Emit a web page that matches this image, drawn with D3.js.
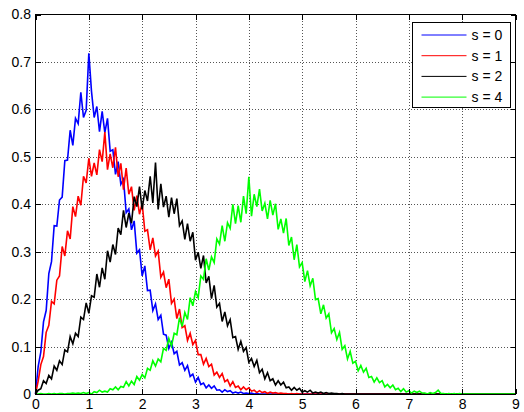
<!DOCTYPE html>
<html>
<head>
<meta charset="utf-8">
<script src="https://cdn.jsdelivr.net/npm/d3@7"></script>
<style>
  html, body { margin: 0; padding: 0; background: #fff; }
  svg { display: block; font-family: "Liberation Sans", Arial, sans-serif; }
  .grid line { stroke: #555; stroke-dasharray: 1,2; shape-rendering: crispEdges; }
  .grid .domain { display: none; }
  .axis .domain { display: none; }
  .axis line { stroke: #000; shape-rendering: crispEdges; }
  .axis text { font-size: 14px; fill: #000; }
</style>
</head>
<body>
<div id="chart"></div>
<script>
// sample spacing of the histograms (x units) and end of the x range
var step = 0.05;
var xMax = 9;

var xTicks = [0, 1, 2, 3, 4, 5, 6, 7, 8, 9];
var yTicks = [0, 0.1, 0.2, 0.3, 0.4, 0.5, 0.6, 0.7, 0.8];

var seriesNames = ["s = 0", "s = 1", "s = 2", "s = 4"];
var seriesColors = ["#0000ff", "#ff0000", "#000000", "#00ff00"];

// values, one every 0.05 starting at x = 0
var s0Vals = [
  0, 0.058, 0.089, 0.152, 0.176, 0.254, 0.279, 0.355, 0.354, 0.409,
  0.415, 0.492, 0.493, 0.556, 0.524, 0.581, 0.570, 0.636, 0.583, 0.598,
  0.718, 0.638, 0.583, 0.606, 0.553, 0.596, 0.551, 0.581, 0.512, 0.515,
  0.463, 0.490, 0.442, 0.453, 0.382, 0.390, 0.346, 0.365, 0.297, 0.304,
  0.249, 0.270, 0.218, 0.219, 0.176, 0.190, 0.157, 0.166, 0.126, 0.124,
  0.096, 0.109, 0.085, 0.090, 0.061, 0.066, 0.050, 0.060, 0.037, 0.042,
  0.025, 0.035, 0.020, 0.023, 0.013, 0.019, 0.012, 0.017, 0.008, 0.009,
  0.004, 0.009, 0.005, 0.007, 0.002, 0.004, 0.002, 0.004, 0.001, 0.002,
  0.001, 0.002, 0, 0.001, 0
];
var s1Vals = [
  0, 0.027, 0.062, 0.079, 0.130, 0.145, 0.195, 0.190, 0.240, 0.249,
  0.311, 0.291, 0.344, 0.327, 0.395, 0.374, 0.417, 0.398, 0.459, 0.445,
  0.497, 0.459, 0.487, 0.462, 0.515, 0.490, 0.552, 0.473, 0.506, 0.477,
  0.520, 0.458, 0.486, 0.431, 0.476, 0.421, 0.437, 0.387, 0.418, 0.379,
  0.402, 0.343, 0.346, 0.304, 0.329, 0.291, 0.301, 0.246, 0.257, 0.224,
  0.242, 0.191, 0.200, 0.159, 0.179, 0.140, 0.144, 0.113, 0.128, 0.104,
  0.113, 0.083, 0.083, 0.063, 0.075, 0.058, 0.063, 0.040, 0.046, 0.035,
  0.043, 0.026, 0.030, 0.017, 0.026, 0.014, 0.017, 0.009, 0.015, 0.009,
  0.013, 0.006, 0.008, 0.003, 0.007, 0.003, 0.005, 0.001, 0.004, 0.002,
  0.003, 0.001, 0.002, 0.001, 0.001, 0, 0.001, 0, 0.001, 0, 0
];
var s2Vals = [
  0, 0.008, 0.011, 0.028, 0.022, 0.039, 0.032, 0.059, 0.050, 0.070,
  0.062, 0.093, 0.089, 0.121, 0.106, 0.128, 0.121, 0.162, 0.157, 0.192,
  0.170, 0.207, 0.204, 0.253, 0.225, 0.266, 0.242, 0.302, 0.278, 0.315,
  0.294, 0.350, 0.336, 0.387, 0.351, 0.381, 0.360, 0.416, 0.395, 0.437,
  0.389, 0.429, 0.407, 0.459, 0.403, 0.488, 0.389, 0.443, 0.394, 0.417,
  0.373, 0.414, 0.380, 0.412, 0.355, 0.365, 0.326, 0.359, 0.322, 0.341,
  0.282, 0.299, 0.265, 0.292, 0.234, 0.248, 0.201, 0.229, 0.183, 0.191,
  0.153, 0.173, 0.144, 0.157, 0.119, 0.121, 0.094, 0.111, 0.090, 0.098,
  0.067, 0.075, 0.058, 0.071, 0.045, 0.052, 0.032, 0.045, 0.028, 0.032,
  0.019, 0.028, 0.019, 0.025, 0.013, 0.015, 0.008, 0.014, 0.008, 0.012,
  0.004, 0.007, 0.004, 0.008, 0.002, 0.004, 0.002, 0.004, 0.001, 0.003,
  0.001, 0.002, 0.001, 0.001, 0, 0.001, 0
];
var s4Vals = [
  0, 0, 0.001, 0, 0, 0.001, 0, 0.001, 0, 0.001,
  0.001, 0, 0.001, 0.001, 0.002, 0.001, 0.002, 0.001, 0.003, 0.001,
  0.003, 0.000, 0.005, 0.003, 0.008, 0.004, 0.006, 0.004, 0.011, 0.009,
  0.015, 0.009, 0.016, 0.014, 0.026, 0.017, 0.027, 0.020, 0.037, 0.029,
  0.041, 0.034, 0.054, 0.050, 0.070, 0.059, 0.074, 0.068, 0.096, 0.092,
  0.117, 0.101, 0.128, 0.125, 0.161, 0.142, 0.172, 0.157, 0.203, 0.186,
  0.216, 0.203, 0.249, 0.242, 0.285, 0.261, 0.289, 0.277, 0.327, 0.316,
  0.355, 0.322, 0.361, 0.349, 0.400, 0.359, 0.397, 0.362, 0.417, 0.380,
  0.458, 0.375, 0.421, 0.395, 0.432, 0.386, 0.402, 0.369, 0.408, 0.377,
  0.401, 0.347, 0.369, 0.339, 0.370, 0.313, 0.331, 0.283, 0.315, 0.268,
  0.277, 0.237, 0.260, 0.228, 0.244, 0.199, 0.201, 0.169, 0.188, 0.160,
  0.169, 0.129, 0.138, 0.115, 0.130, 0.094, 0.102, 0.074, 0.090, 0.065,
  0.069, 0.049, 0.060, 0.046, 0.054, 0.035, 0.037, 0.025, 0.034, 0.024,
  0.028, 0.015, 0.020, 0.013, 0.019, 0.009, 0.012, 0.005, 0.011, 0.004,
  0.007, 0.002, 0.006, 0.003, 0.006, 0.002, 0.002, 0, 0.003, 0.001,
  0.003, 0.008, 0.001, 0.001, 0, 0.001, 0, 0.001, 0, 0.001,
  0
];

var seriesVals = [s0Vals, s1Vals, s2Vals, s4Vals];

document.addEventListener("DOMContentLoaded", function(){
  var width = 524, height = 412;
  var mLeft = 35.5, mRight = 515.5, mTop = 14.5, mBottom = 394;

  var svg = d3.select("#chart").append("svg")
    .attr("width", width)
    .attr("height", height);

  svg.append("rect")
    .attr("width", width)
    .attr("height", height)
    .attr("fill", "#fff");

  var x = d3.scaleLinear().domain([0, xMax]).range([mLeft, mRight]);
  var y = d3.scaleLinear().domain([0, 0.8]).range([mBottom, mTop]);

  var fmt = function(d){ return d === 0 ? "0" : d3.format(".1f")(d); };

  // dotted grid (inner lines only)
  svg.append("g")
    .attr("class", "grid")
    .attr("transform", "translate(0," + mBottom + ")")
    .call(d3.axisBottom(x).tickValues(xTicks.slice(1, -1)).tickSize(-(mBottom - mTop)).tickFormat(""));
  svg.append("g")
    .attr("class", "grid")
    .attr("transform", "translate(" + mLeft + ",0)")
    .call(d3.axisLeft(y).tickValues(yTicks.slice(1, -1)).tickSize(-(mRight - mLeft)).tickFormat(""));

  // curves, first series underneath
  var line = d3.line()
    .x(function(d){ return x(d[0]); })
    .y(function(d){ return y(d[1]); });

  seriesVals.forEach(function(vals, k){
    var pts = vals.map(function(v, i){ return [i * step, v]; });
    pts.push([xMax, 0]);
    svg.append("path")
      .datum(pts)
      .attr("fill", "none")
      .attr("stroke", seriesColors[k])
      .attr("stroke-width", 1.6)
      .attr("d", line);
  });

  // axes with inward ticks on all four sides
  svg.append("g")
    .attr("class", "axis")
    .attr("transform", "translate(0," + mBottom + ")")
    .call(d3.axisBottom(x).tickValues(xTicks).tickSize(-5).tickPadding(5.5).tickFormat(d3.format("d")));
  svg.append("g")
    .attr("class", "axis")
    .attr("transform", "translate(0," + mTop + ")")
    .call(d3.axisTop(x).tickValues(xTicks).tickSize(-5).tickFormat(""));
  svg.append("g")
    .attr("class", "axis")
    .attr("transform", "translate(" + mLeft + ",0)")
    .call(d3.axisLeft(y).tickValues(yTicks).tickSize(-5).tickPadding(4.5).tickFormat(fmt));
  svg.append("g")
    .attr("class", "axis")
    .attr("transform", "translate(" + mRight + ",0)")
    .call(d3.axisRight(y).tickValues(yTicks).tickSize(-5).tickFormat(""));

  svg.append("rect")
    .attr("x", mLeft)
    .attr("y", mTop)
    .attr("width", mRight - mLeft)
    .attr("height", mBottom - mTop)
    .attr("fill", "none")
    .attr("stroke", "#000")
    .attr("stroke-width", 1)
    .attr("shape-rendering", "crispEdges");

  // legend
  var legend = svg.append("g").attr("transform", "translate(412.5,22.5)");
  legend.append("rect")
    .attr("width", 98)
    .attr("height", 85)
    .attr("fill", "#fff")
    .attr("stroke", "#000")
    .attr("shape-rendering", "crispEdges");

  var entries = legend.selectAll("g.entry")
    .data(seriesNames)
    .enter()
    .append("g")
    .attr("class", "entry")
    .attr("transform", function(d, i){ return "translate(0," + (12.5 + i * 20.7) + ")"; });

  entries.append("line")
    .attr("x1", 9)
    .attr("x2", 54)
    .attr("stroke", function(d, i){ return seriesColors[i]; })
    .attr("stroke-width", 1);

  entries.append("text")
    .attr("x", 59)
    .attr("dy", "0.35em")
    .attr("font-size", 14)
    .text(function(d){ return d; });
});
</script>
</body>
</html>
